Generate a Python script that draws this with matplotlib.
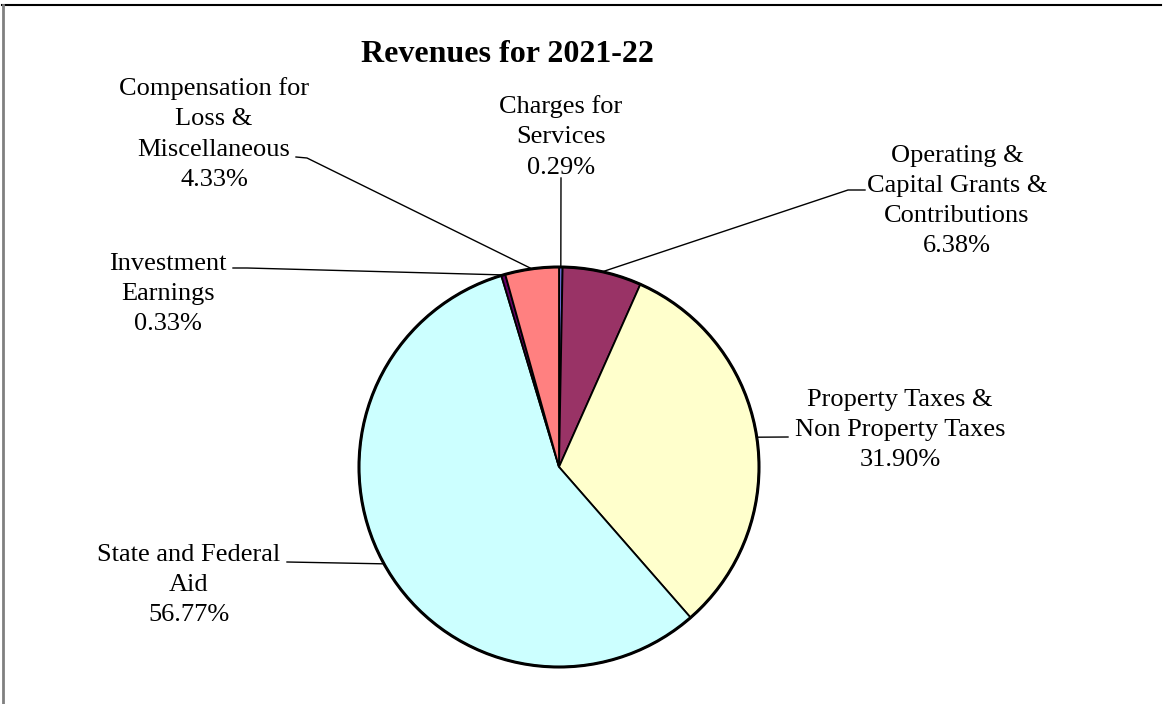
import numpy as np
import matplotlib.pyplot as plt
from matplotlib.patches import Circle

plt.rcParams['font.family'] = ['Liberation Serif', 'DejaVu Serif']

# data, clockwise from 12 o'clock
labels = ['Charges for\nServices', 'Operating &\nCapital Grants &\nContributions',
          'Property Taxes &\nNon Property Taxes', 'State and Federal\nAid',
          'Investment\nEarnings', 'Compensation for\nLoss &\nMiscellaneous']
shares = [0.29, 6.38, 31.90, 56.77, 0.33, 4.33]
colors = ['#6666cc', '#993366', '#ffffcc', '#ccffff', '#660066', '#ff8080']

W, H = 1166, 704
cx, cy, R = 559, 467, 200


def Y(y):
    return H - y


fig = plt.figure(figsize=(W / 100, H / 100), dpi=100)
ax = fig.add_axes([0, 0, 1, 1])

wedges, _ = ax.pie(shares, colors=colors, startangle=90, counterclock=False,
                   center=(cx, Y(cy)), radius=R,
                   wedgeprops=dict(edgecolor='black', linewidth=1.3))
ax.add_patch(Circle((cx, Y(cy)), R, fill=False, edgecolor='black', linewidth=2.2))

# text centre, leader start (near text), optional elbow
layout = [
    dict(xy=(561, 137), pts=[(561, 178)]),
    dict(xy=(957, 201), pts=[(865, 190), (848, 190)]),
    dict(xy=(900, 430), pts=[(788, 437)]),
    dict(xy=(189, 585), pts=[(287, 562)]),
    dict(xy=(168, 294), pts=[(233, 268), (247, 268)]),
    dict(xy=(214, 134), pts=[(296, 157), (307, 158)]),
]

for w, lab, val, lo in zip(wedges, labels, shares, layout):
    mid = np.deg2rad((w.theta1 + w.theta2) / 2)
    ex, ey = cx + R * np.cos(mid), Y(cy) + R * np.sin(mid)
    xs = [p[0] for p in lo['pts']] + [ex]
    ys = [Y(p[1]) for p in lo['pts']] + [ey]
    ax.plot(xs, ys, color='black', lw=1, zorder=0.5)
    ax.text(lo['xy'][0], Y(lo['xy'][1]), f'{lab}\n{val:.2f}%', ha='center', va='center',
            fontsize=19, linespacing=1.48)

ax.text(507, Y(55), 'Revenues for 2021-22', ha='center', va='center',
        fontsize=23, fontweight='bold')

# chart frame (top and left only visible)
ax.plot([2, 1161], [Y(5), Y(5)], color='black', lw=1.5)
ax.plot([3, 3], [Y(5), Y(704)], color='#808080', lw=2)

ax.set_xlim(0, W)
ax.set_ylim(0, H)
ax.set_aspect('equal')
ax.axis('off')

fig.savefig('out.png', dpi=100)
